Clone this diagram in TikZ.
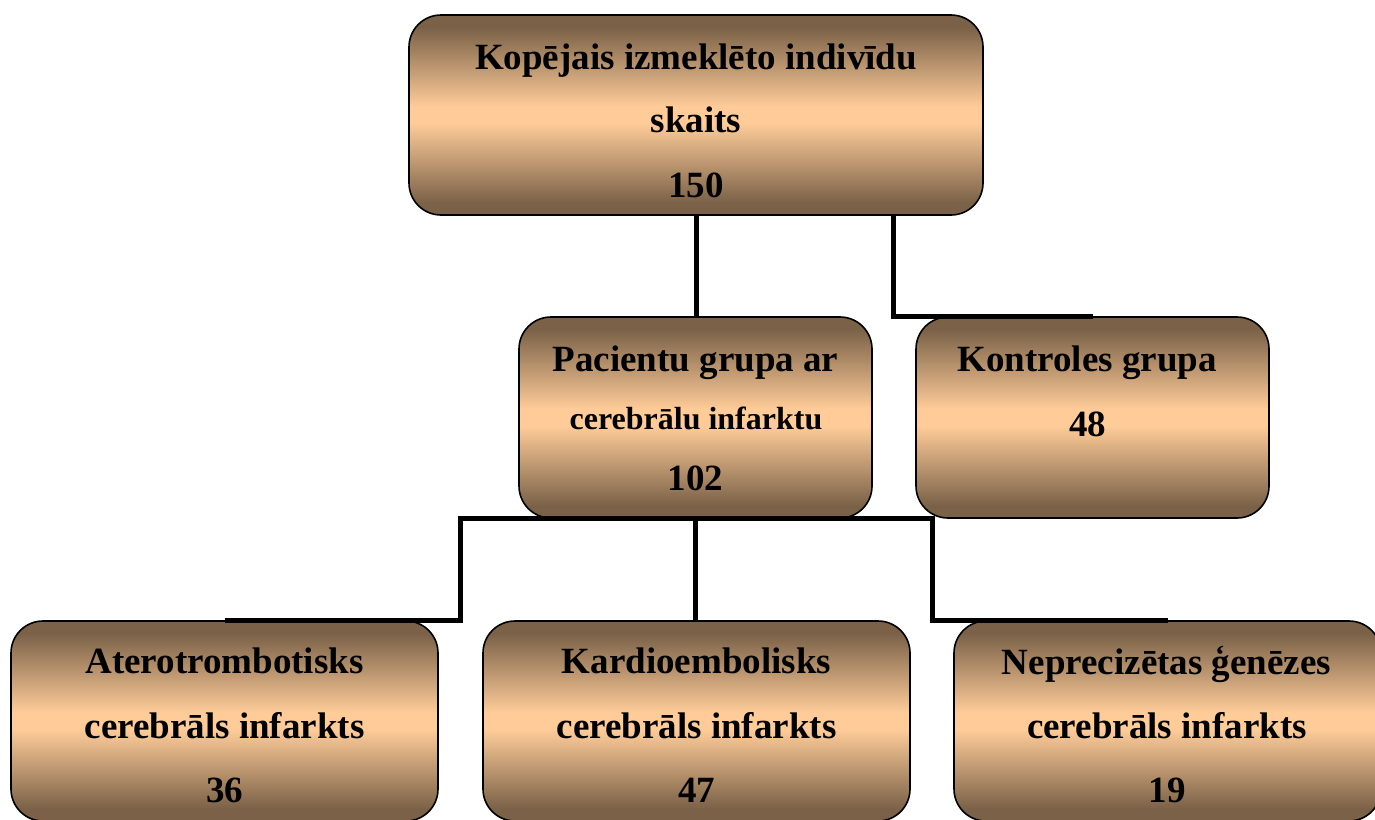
\documentclass[tikz,border=0pt]{standalone}
\usepackage{fontspec}
\setmainfont{Liberation Serif}
\definecolor{dk}{RGB}{122,97,72}
\definecolor{lt}{RGB}{255,204,153}
\colorlet{md}{dk!45!lt}
\pgfdeclareverticalshading{tanband}{100bp}{color(0bp)=(dk); color(28bp)=(dk); color(39bp)=(md); color(48bp)=(lt); color(52bp)=(lt); color(61bp)=(md); color(72bp)=(dk); color(100bp)=(dk)}
\tikzset{
 box/.style={draw=black, line width=1.6pt, rounded corners=32pt, shading=tanband, inner sep=0pt},
 midbox/.style={box, minimum width=353pt, minimum height=201pt},
 lowbox/.style={box, minimum width=427pt, minimum height=200pt},
 txt/.style={font=\bfseries\fontsize{37}{44}\selectfont, inner sep=0pt, anchor=base},
 stxt/.style={txt, font=\bfseries\fontsize{32}{38}\selectfont},
 conn/.style={line width=5pt, draw=black}
}
\begin{document}
\begin{tikzpicture}[x=1pt,y=-1pt]
\useasboundingbox (0,0) rectangle (1375,819);
% boxes
\node[box, minimum width=574pt, minimum height=200pt] (top) at (696,115) {};
\node[midbox] (pl) at (695.5,417.5) {};
\node[midbox] (kg) at (1092.5,417.5) {};
\node[lowbox] (b1) at (224.5,721) {};
\node[lowbox] (b2) at (696.5,721) {};
\node[lowbox] (b3) at (1167.5,721) {};
% connectors
\coordinate (tk) at ([xshift=197pt]top.south);
\coordinate (jl) at (460,518);
\coordinate (jr) at (932,518);
\draw[conn] (top.south) -- (top.south |- pl.north);
\draw[conn] (tk) |- (kg.north);
\draw[conn] (b1.north) -| (jl) -- (jr) |- (b3.north);
\draw[conn] (pl.south) -- (pl.south |- b2.north);
% texts
\node[txt] (t1a) at (696,69) {Kopējais izmeklēto indivīdu};
\node[txt] (t1b) at (696,132) {skaits};
\node[txt] (t1c) at (696,197) {150};
\node[txt] (t2a) at (695.5,371) {Pacientu grupa ar};
\node[stxt] (t2b) at (696,429) {cerebrālu infarktu};
\node[txt] (t2c) at (695.5,490) {102};
\node[txt] (t3a) at (1087,371) {Kontroles grupa};
\node[txt] (t3b) at (1087.5,436) {48};
\node[txt] (t4a) at (224.5,673) {Aterotrombotisks};
\node[txt] (t4b) at (224.5,738) {cerebrāls infarkts};
\node[txt] (t4c) at (224.5,802) {36};
\node[txt] (t5a) at (696.5,673) {Kardioembolisks};
\node[txt] (t5b) at (696.5,738) {cerebrāls infarkts};
\node[txt] (t5c) at (696.5,802) {47};
\node[txt] (t6a) at (1166.5,674) {Neprecizētas ģenēzes};
\node[txt] (t6b) at (1167,738) {cerebrāls infarkts};
\node[txt] (t6c) at (1167,802) {19};
\end{tikzpicture}
\end{document}
